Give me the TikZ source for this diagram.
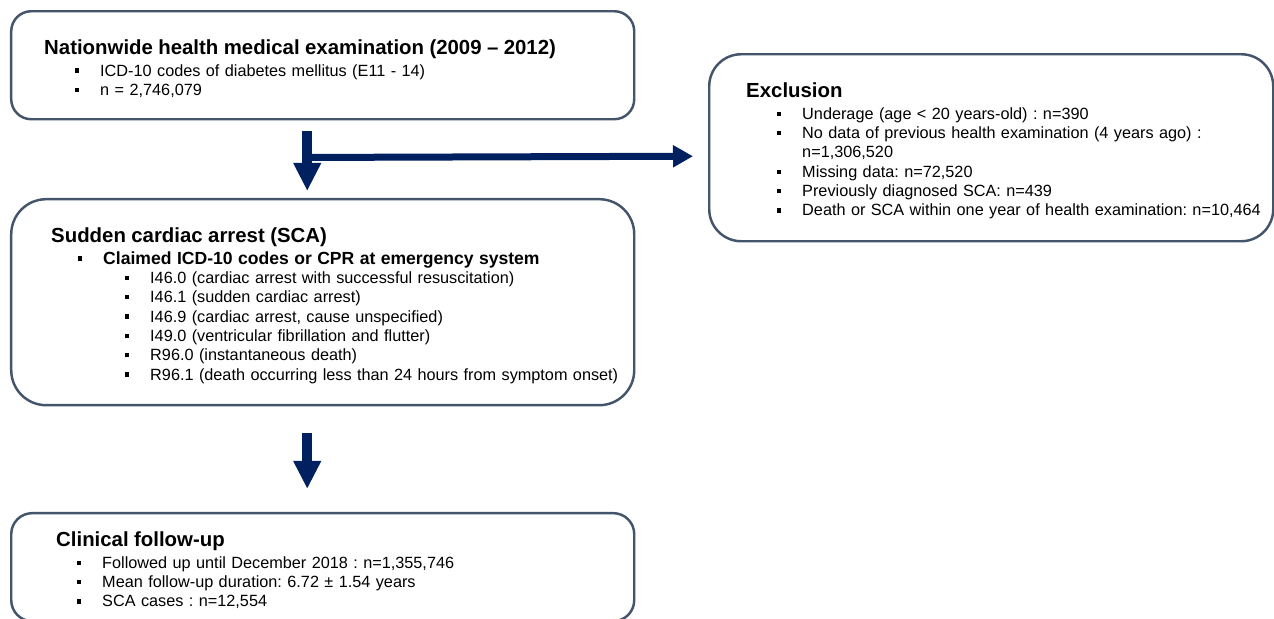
\documentclass[tikz,border=0pt]{standalone}
\usepackage{fontspec}
\setmainfont{Liberation Sans}
\usepackage{xcolor}
\usetikzlibrary{positioning,arrows.meta}
\definecolor{boxline}{HTML}{44546A}
\definecolor{navy}{HTML}{002060}
\frenchspacing
\newcommand{\sqb}{\raisebox{1.9pt}{\rule{2.4pt}{2.4pt}}}
\newcommand{\itm}[2]{\mbox{\hspace*{#1}\makebox[0.5cm][l]{\sqb}#2}}
\newcommand{\hd}[1]{{\rule{0pt}{12pt}\fontsize{11.6}{11}\selectfont\bfseries #1}}

\begin{document}
\begin{tikzpicture}[
    node distance=1.55cm,
    box/.style={
        rectangle,
        draw=boxline,
        line width=1.4pt,
        align=left,
        inner ysep=0pt,
        font=\fontsize{9.25}{11}\selectfont
    },
    arrow/.style={
        draw=navy,
        line width=0.2cm,
        -{Triangle[length=0.56cm,width=0.52cm]}
    },
    sidearrow/.style={
        draw=navy,
        line width=0.14cm,
        -{Triangle[length=0.4cm,width=0.42cm]}
    }
]
\useasboundingbox (0,0) rectangle (25.48,-12.38);

% ---------------- COHORT ----------------
\node[box, anchor=north west, rounded corners=0.4cm, minimum height=2.16cm,
      text width=11.14cm, inner xsep=0.66cm] (cohort) at (0.2,-0.2) {
    \hd{Nationwide health medical examination (2009 – 2012)}\\[1.5pt]
    \itm{0.62cm}{ICD-10 codes of diabetes mellitus (E11 - 14)}\\
    \itm{0.62cm}{n = 2,746,079}
};

% ---------------- EXCLUSION ----------------
\node[box, anchor=north west, rounded corners=0.64cm, minimum height=3.74cm,
      text width=9.8cm, inner xsep=0.74cm] (excl) at (14.16,-1.06) {
    \hd{Exclusion}\\[1.5pt]
    \itm{0.62cm}{Underage (age < 20 years-old) : n=390}\\
    \itm{0.62cm}{No data of previous health examination (4 years ago) :}\\
    \mbox{\hspace*{1.12cm}n=1,306,520}\\
    \itm{0.62cm}{Missing data: n=72,520}\\
    \itm{0.62cm}{Previously diagnosed SCA: n=439}\\
    \itm{0.62cm}{Death or SCA within one year of health examination: n=10,464}
};

% ---------------- SCA ----------------
\node[box, below=of cohort, rounded corners=0.7cm, minimum height=4.12cm,
      text width=10.86cm, inner xsep=0.8cm] (sca) {
    \hd{Sudden cardiac arrest (SCA)}\\[1.5pt]
    \itm{0.54cm}{\fontsize{10}{11}\selectfont\bfseries Claimed ICD-10 codes or CPR at emergency system}\\
    \itm{1.48cm}{I46.0 (cardiac arrest with successful resuscitation)}\\
    \itm{1.48cm}{I46.1 (sudden cardiac arrest)}\\
    \itm{1.48cm}{I46.9 (cardiac arrest, cause unspecified)}\\
    \itm{1.48cm}{I49.0 (ventricular fibrillation and flutter)}\\
    \itm{1.48cm}{R96.0 (instantaneous death)}\\
    \itm{1.48cm}{R96.1 (death occurring less than 24 hours from symptom onset)}
};

% ---------------- FOLLOW-UP ----------------
\node[box, below=2.11cm of sca, rounded corners=0.42cm, minimum height=2.16cm,
      text width=10.66cm, inner xsep=0.9cm] (followup) {
    \hd{Clinical follow-up}\\[1.5pt]
    \itm{0.42cm}{Followed up until December 2018 : n=1,355,746}\\
    \itm{0.42cm}{Mean follow-up duration: 6.72 ± 1.54 years}\\
    \itm{0.42cm}{SCA cases : n=12,554}
};

% ---------------- ARROWS ----------------
\draw[arrow] ([xshift=-0.31cm,yshift=-0.22cm]cohort.south) -- ([xshift=-0.31cm,yshift=0.14cm]sca.north);
\draw[sidearrow] ([xshift=-0.31cm,yshift=-0.74cm]cohort.south) -- ([xshift=-0.3cm,yshift=-0.17cm]excl.west);
\draw[arrow] ([xshift=-0.31cm,yshift=-0.54cm]sca.south) -- ([xshift=-0.31cm,yshift=0.46cm]followup.north);

\end{tikzpicture}
\end{document}
